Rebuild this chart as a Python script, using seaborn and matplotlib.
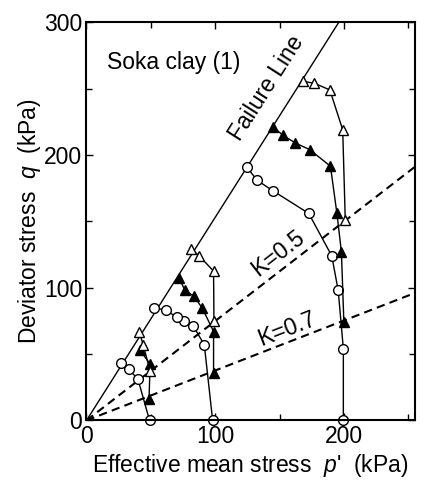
import matplotlib
matplotlib.use("Agg")
import matplotlib.pyplot as plt
import seaborn as sns
import numpy as np
import pandas as pd

# ---- data ----
p50_circ = [49, 40, 33, 27]
q50_circ = [0, 31, 38.5, 43]
p50_ftri = [48.6, 49.4, 41.5]
q50_ftri = [16.5, 42.5, 53]
p50_otri = [49.5, 44, 41]
q50_otri = [37, 57, 67]

p100_circ = [98, 91.5, 83, 76, 70, 61.5, 52.5]
q100_circ = [0, 57, 71, 75, 78, 83, 85]
p100_ftri = [98.7, 98.7, 90, 83.5, 76.5, 72]
q100_ftri = [36, 67, 84.5, 93.5, 98, 107]
p100_otri = [99, 98.7, 87.5, 81.5]
q100_otri = [75, 112.5, 124, 129]

p200_circ = [199.5, 199.5, 195.5, 190.5, 172.6, 144.8, 132.4, 124.5]
q200_circ = [0, 54, 98, 124, 156, 173, 181, 191]
p200_ftri = [199.9, 198, 194.5, 189.5, 173.4, 162.3, 152.4, 145]
q200_ftri = [74, 127, 156, 191.5, 204, 209, 215, 221]
p200_otri = [201, 199, 189, 177, 168]
q200_otri = [151, 219, 249, 254, 255.5]

failure_p = [0, 196]
failure_q = [0, 300]
k05_p = [0, 255]
k05_q = [0, 191]
k07_p = [0, 255]
k07_q = [0, 96]

sns.set_style("ticks")
plt.rcParams['font.family'] = ['Liberation Sans', 'DejaVu Sans']
plt.rcParams['mathtext.fontset'] = 'custom'
plt.rcParams['mathtext.it'] = 'Liberation Sans:italic'
plt.rcParams['mathtext.rm'] = 'Liberation Sans'

FS = 16.5

fig = plt.figure(figsize=(4.25, 4.83), dpi=100)
ax = fig.add_axes([0.2035, 0.1295, 0.7725, 0.8245])

# reference lines
sns.lineplot(x=failure_p, y=failure_q, ax=ax, color='black', lw=1.0, zorder=2, estimator=None)
sns.lineplot(x=k05_p, y=k05_q, ax=ax, color='black', lw=1.5, zorder=2, estimator=None)
sns.lineplot(x=k07_p, y=k07_q, ax=ax, color='black', lw=1.5, zorder=2, estimator=None)
for ln in ax.lines[1:3]:
    ln.set_dashes([4, 2.5])

def path(px, qy, marker, face, ms, z):
    df = pd.DataFrame({'p': px, 'q': qy})
    sns.lineplot(data=df, x='p', y='q', sort=False, estimator=None, ax=ax,
                 color='black', lw=1.0,
                 marker=marker, markersize=ms, markerfacecolor=face,
                 markeredgecolor='black', markeredgewidth=1.0, zorder=z,
                 clip_on=False)

for px, qy in [(p50_circ, q50_circ), (p100_circ, q100_circ), (p200_circ, q200_circ)]:
    path(px, qy, 'o', 'white', 7, 3)
for px, qy in [(p50_ftri, q50_ftri), (p100_ftri, q100_ftri), (p200_ftri, q200_ftri)]:
    path(px, qy, '^', 'black', 7.5, 4)
for px, qy in [(p50_otri, q50_otri), (p100_otri, q100_otri), (p200_otri, q200_otri)]:
    path(px, qy, '^', 'white', 7.5, 5)

ax.set_xlim(0, 255)
ax.set_ylim(0, 300)
ax.set_xticks([0, 100, 200])
ax.set_yticks([0, 100, 200, 300])
ax.set_xticks([50, 150, 250], minor=True)
ax.set_yticks([50, 150, 250], minor=True)
ax.tick_params(which='both', direction='in', top=True, right=True, labelsize=FS,
               width=1.0, color='black', labelcolor='black')
ax.tick_params(which='major', length=5, pad=3)
ax.tick_params(which='minor', length=4)
for s in ax.spines.values():
    s.set_linewidth(1.5)
    s.set_color('black')
    s.set_zorder(6)

ax.set_xlabel("Effective mean stress  $p$'  (kPa)", fontsize=FS, labelpad=3, color='black')
ax.set_ylabel("Deviator stress  $q$  (kPa)", fontsize=FS, labelpad=1, color='black')

ax.text(16, 270, "Soka clay (1)", fontsize=FS, ha='left', va='center', color='black')
ax.text(140, 250, "Failure Line", fontsize=FS, rotation=57.5, ha='center', va='center',
        rotation_mode='anchor', color='black')
ax.text(149, 126, "K=0.5", fontsize=FS, rotation=37.8, ha='center', va='center',
        rotation_mode='anchor', color='black')
ax.text(155.3, 68.5, "K=0.7", fontsize=FS, rotation=21.2, ha='center', va='center',
        rotation_mode='anchor', color='black')

if ax.get_legend() is not None:
    ax.get_legend().remove()

fig.savefig("out.png", dpi=100)
